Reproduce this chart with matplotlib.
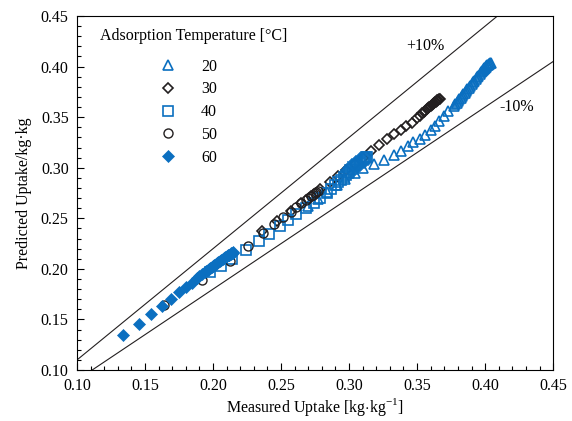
import numpy as np
import matplotlib
matplotlib.use("Agg")
import matplotlib.pyplot as plt
from matplotlib.ticker import MultipleLocator, FormatStrFormatter

plt.rcParams['font.family'] = ['Liberation Serif', 'DejaVu Serif']
plt.rcParams['mathtext.fontset'] = 'custom'
plt.rcParams['mathtext.rm'] = 'Liberation Serif'

BLUE = '#0b6fc0'
BLACK = '#231f20'

# adsorption temperature series (measured, predicted)
x20 = [0.270, 0.277, 0.284, 0.291, 0.297, 0.304, 0.310, 0.318, 0.326, 0.333, 0.338,
       0.343, 0.347, 0.352, 0.356, 0.360, 0.363, 0.366, 0.370, 0.373, 0.377, 0.378,
       0.379, 0.380, 0.381, 0.382, 0.383, 0.384, 0.385, 0.386, 0.387, 0.388, 0.389,
       0.390, 0.391, 0.392, 0.393, 0.394, 0.395, 0.396, 0.397, 0.398, 0.3985, 0.399,
       0.3995, 0.400, 0.4005, 0.401, 0.4015, 0.402, 0.4025, 0.403, 0.4035, 0.404]
y20 = [0.262, 0.269, 0.276, 0.283, 0.289, 0.295, 0.2995, 0.304, 0.308, 0.313, 0.317,
       0.321, 0.325, 0.328, 0.3325, 0.337, 0.341, 0.346, 0.351, 0.356, 0.361, 0.3627,
       0.3643, 0.366, 0.3677, 0.3693, 0.371, 0.3727, 0.3743, 0.376, 0.3777, 0.3793,
       0.381, 0.3827, 0.3843, 0.386, 0.3877, 0.3893, 0.391, 0.3927, 0.3943, 0.396,
       0.3967, 0.3975, 0.3982, 0.399, 0.3997, 0.4005, 0.4012, 0.402, 0.4025, 0.403,
       0.4033, 0.4036]

x30 = [0.236, 0.247, 0.257, 0.265, 0.272, 0.279, 0.286, 0.292, 0.298, 0.304, 0.310,
       0.316, 0.322, 0.328, 0.333, 0.338, 0.342, 0.346, 0.350, 0.352, 0.3535, 0.355,
       0.356, 0.357, 0.358, 0.359, 0.360, 0.3608, 0.3615, 0.3622, 0.363, 0.3637,
       0.3644, 0.365, 0.3656, 0.3662, 0.3667]
y30 = [0.237, 0.247, 0.257, 0.265, 0.272, 0.279, 0.286, 0.292, 0.298, 0.304, 0.310,
       0.317, 0.3225, 0.328, 0.333, 0.3375, 0.341, 0.3445, 0.349, 0.3515, 0.354, 0.3553,
       0.3565, 0.3577, 0.359, 0.3602, 0.3613, 0.3622, 0.3631, 0.3639, 0.3647, 0.3654,
       0.3661, 0.3667, 0.3673, 0.3678, 0.3682]

x40 = [0.198, 0.206, 0.214, 0.224, 0.234, 0.241, 0.249, 0.255, 0.261, 0.268, 0.274,
       0.279, 0.284, 0.287, 0.290, 0.292, 0.294, 0.296, 0.298, 0.299, 0.300, 0.301,
       0.302, 0.303, 0.304, 0.305, 0.306, 0.307, 0.308, 0.309, 0.310, 0.311, 0.312,
       0.3125, 0.313]
y40 = [0.197, 0.203, 0.210, 0.219, 0.228, 0.2345, 0.242, 0.248, 0.254, 0.260, 0.265,
       0.270, 0.275, 0.279, 0.283, 0.2855, 0.288, 0.2905, 0.293, 0.2945, 0.296, 0.2975,
       0.299, 0.3003, 0.3015, 0.3028, 0.304, 0.305, 0.306, 0.307, 0.308, 0.309, 0.310,
       0.3105, 0.311]

x50 = [0.164, 0.192, 0.2125, 0.226, 0.237, 0.245, 0.2515, 0.257, 0.261, 0.265, 0.268,
       0.270, 0.272, 0.2735, 0.275, 0.276, 0.277]
y50 = [0.164, 0.189, 0.208, 0.223, 0.235, 0.244, 0.251, 0.256, 0.261, 0.265, 0.268,
       0.270, 0.272, 0.2735, 0.275, 0.276, 0.277]

x60 = [0.134, 0.1456, 0.1544, 0.1627, 0.169, 0.175, 0.180, 0.1843, 0.188, 0.190, 0.192,
       0.194, 0.195, 0.196, 0.197, 0.198, 0.199, 0.200, 0.201, 0.202, 0.203, 0.204,
       0.205, 0.206, 0.207, 0.208, 0.209, 0.210, 0.211, 0.2115, 0.212, 0.213, 0.2135,
       0.214, 0.2145, 0.215]
y60 = [0.135, 0.1458, 0.155, 0.1636, 0.170, 0.177, 0.182, 0.1864, 0.1907, 0.1925, 0.1945,
       0.1965, 0.1975, 0.1985, 0.1995, 0.2005, 0.2015, 0.2025, 0.2035, 0.2045, 0.2055,
       0.2065, 0.2075, 0.2085, 0.2095, 0.2105, 0.2115, 0.2125, 0.2133, 0.2137, 0.2141,
       0.2149, 0.2153, 0.2157, 0.2161, 0.2165]

labels = ['20', '30', '40', '50', '60']

fig = plt.figure(figsize=(5.72, 4.21), dpi=100)
ax = fig.add_axes([0.1346, 0.121, 0.8324, 0.841])

# +/-10% lines
lx = np.array([0.0, 0.5])
ax.plot(lx, 1.1 * lx, color=BLACK, lw=0.8, zorder=1)
ax.plot(lx, 0.9 * lx, color=BLACK, lw=0.8, zorder=1)

ax.plot(x20, y20, ls='none', marker='^', ms=6.5, mfc='none', mec=BLUE, mew=1.2, label=labels[0])
ax.plot(x30, y30, ls='none', marker='D', ms=5.5, mfc='none', mec=BLACK, mew=1.2, label=labels[1])
ax.plot(x40, y40, ls='none', marker='s', ms=6.5, mfc='none', mec=BLUE, mew=1.2, label=labels[2])
ax.plot(x50, y50, ls='none', marker='o', ms=6.5, mfc='none', mec=BLACK, mew=1.0, label=labels[3])
ax.plot(x60, y60, ls='none', marker='D', ms=6, mfc=BLUE, mec=BLUE, mew=0.5, label=labels[4])

ax.set_xlim(0.10, 0.45)
ax.set_ylim(0.10, 0.45)
ax.xaxis.set_major_locator(MultipleLocator(0.05))
ax.yaxis.set_major_locator(MultipleLocator(0.05))
ax.xaxis.set_minor_locator(MultipleLocator(0.01))
ax.yaxis.set_minor_locator(MultipleLocator(0.01))
ax.xaxis.set_major_formatter(FormatStrFormatter('%.2f'))
ax.yaxis.set_major_formatter(FormatStrFormatter('%.2f'))
ax.tick_params(which='both', direction='in', top=False, right=False, labelsize=11.5, width=0.8)
ax.tick_params(which='major', length=5, pad=6)
ax.tick_params(which='minor', length=3)
for s in ax.spines.values():
    s.set_linewidth(0.8)

ax.set_xlabel(r'Measured Uptake [kg$\cdot$kg$^{\mathregular{-1}}$]', fontsize=11.5, labelpad=1)
ax.set_ylabel('Predicted Uptake/kg·kg', fontsize=11.5, labelpad=6)

ax.text(0.356, 0.420, '+10%', fontsize=11.5, ha='center', va='center')
ax.text(0.4235, 0.360, '-10%', fontsize=11.5, ha='center', va='center')

ax.text(0.117, 0.430, 'Adsorption Temperature [°C]', fontsize=11.5, ha='left', va='center')
ax.legend(loc='upper left', bbox_to_anchor=(0.14, 0.92), frameon=False, fontsize=11.5,
          handletextpad=1.5, labelspacing=0.42, handlelength=1.2)

fig.savefig('out.png', dpi=100)
